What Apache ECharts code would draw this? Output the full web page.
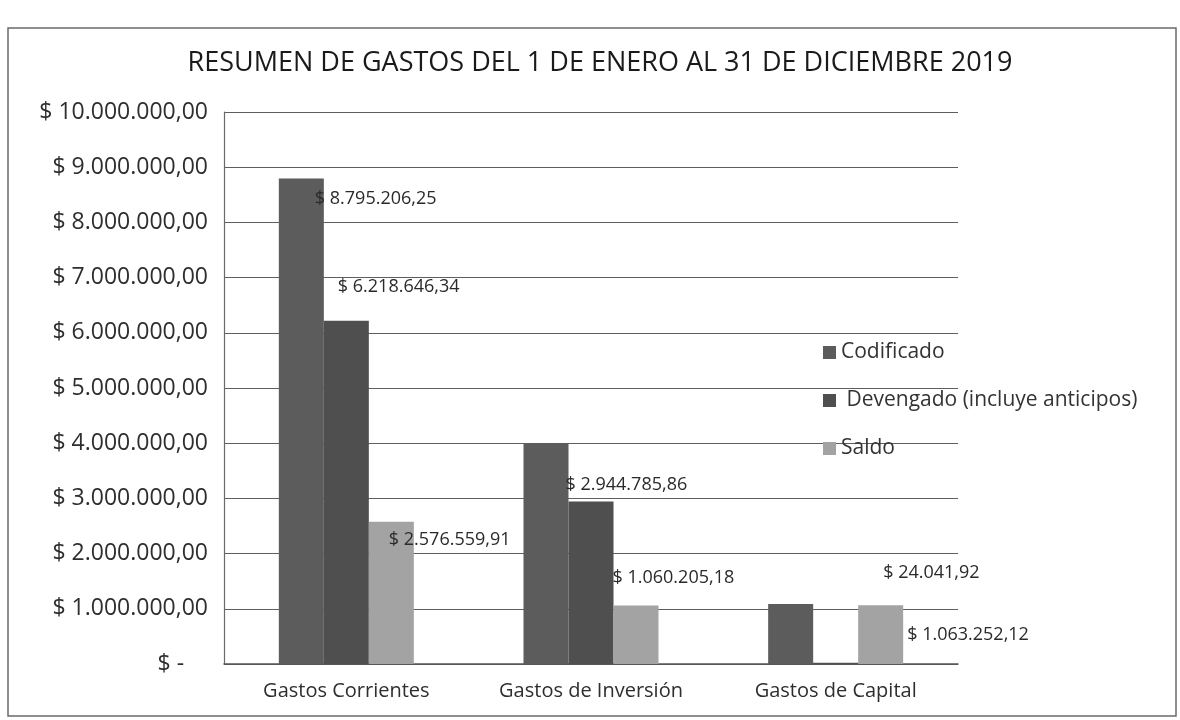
<!DOCTYPE html>
<html>
<head>
    <meta charset="utf-8">
    <title>Resumen de gastos 2019</title>
    <script src="https://cdn.jsdelivr.net/npm/echarts@6/dist/echarts.min.js"></script>
</head>
<body style="margin:0;background:#fff;">
<div id="main" style="width: 1180px;height:720px;"></div>
<script type="text/javascript">

        var categorias = ['Gastos Corrientes', 'Gastos de Inversión', 'Gastos de Capital'];
        var codificado = [8795206.25, 4004991.04, 1087294.04];
        var devengado = [6218646.34, 2944785.86, 24041.92];
        var saldo = [2576559.91, 1060205.18, 1063252.12];
        var nombres = ['Codificado', ' Devengado (incluye anticipos)', 'Saldo'];

        // formato local: $ 8.795.206,25
        function dinero(v){
            var partes = v.toFixed(2).split('.');
            var entero = partes[0].replace(/\B(?=(\d{3})+(?!\d))/g, '.');
            return '$ ' + entero + ',' + partes[1];
        }

        // etiqueta colocada a mano como en la hoja original
        function etiqueta(valor, dx, dy){
            return {
                value: valor,
                label: {
                    show: true,
                    position: [dx, dy],
                    align: 'left',
                    verticalAlign: 'middle',
                    formatter: function(p){ return dinero(p.value); }
                }
            };
        }

        var fuente = 'Open Sans';

        var option = {
            backgroundColor: '#fff',
            animation: false,
            title: {
                text: 'RESUMEN DE GASTOS DEL 1 DE ENERO AL 31 DE DICIEMBRE 2019',
                left: 595,
                top: 45,
                textAlign: 'center',
                textStyle: {fontFamily: fuente, fontSize: 27, fontWeight: 'normal', color: '#1a1a1a'}
            },
            legend: {
                orient: 'vertical',
                left: 818,
                top: 337,
                itemWidth: 13,
                itemHeight: 13,
                itemGap: 27,
                icon: 'rect',
                data: nombres,
                textStyle: {fontFamily: fuente, fontSize: 21, color: '#333'}
            },
            graphic: [{
                type: 'rect',
                shape: {x: 8, y: 28, width: 1168, height: 688},
                style: {fill: 'none', stroke: '#6a6a6a', lineWidth: 1.5},
                silent: true
            }],
            grid: {
                left: 224,
                right: 222,
                top: 112,
                bottom: 56
            },
            xAxis: {
                type: 'category',
                data: categorias,
                axisLine: {lineStyle: {color: '#555', width: 1.5}},
                axisTick: {show: false},
                axisLabel: {interval: 0, fontFamily: fuente, fontSize: 20, color: '#2e2e2e', margin: 17}
            },
            yAxis: {
                type: 'value',
                min: 0,
                max: 10000000,
                interval: 1000000,
                axisLine: {show: true, lineStyle: {color: '#6a6a6a', width: 1.2}},
                axisTick: {show: false},
                splitLine: {lineStyle: {color: '#5e5e5e', width: 1.2}},
                axisLabel: {
                    fontFamily: fuente, fontSize: 23, color: '#2e2e2e', margin: 16,
                    formatter: function(v){ return v === 0 ? '$ -    ' : dinero(v); }
                }
            },
            series: [
                {
                    name: nombres[0],
                    type: 'bar',
                    barWidth: 45,
                    barGap: '0%',
                    itemStyle: {color: '#5c5c5c'},
                    label: {fontFamily: fuente, fontSize: 18, color: '#2a2a2a'},
                    data: [etiqueta(codificado[0], 36, 20), codificado[1], codificado[2]]
                },
                {
                    name: nombres[1],
                    type: 'bar',
                    barWidth: 45,
                    barGap: '0%',
                    itemStyle: {color: '#4f4f4f'},
                    label: {fontFamily: fuente, fontSize: 18, color: '#2a2a2a'},
                    data: [etiqueta(devengado[0], 14, -34), etiqueta(devengado[1], -3, -17), etiqueta(devengado[2], 70, -90)]
                },
                {
                    name: nombres[2],
                    type: 'bar',
                    barWidth: 45,
                    barGap: '0%',
                    itemStyle: {color: '#a3a3a3'},
                    label: {fontFamily: fuente, fontSize: 18, color: '#2a2a2a'},
                    data: [etiqueta(saldo[0], 20, 18), etiqueta(saldo[1], -1, -28), etiqueta(saldo[2], 49, 30)]
                }
            ]
        };

        var myChart = echarts.init(document.getElementById('main'));
        myChart.setOption(option);

</script>
</body>
</html>
